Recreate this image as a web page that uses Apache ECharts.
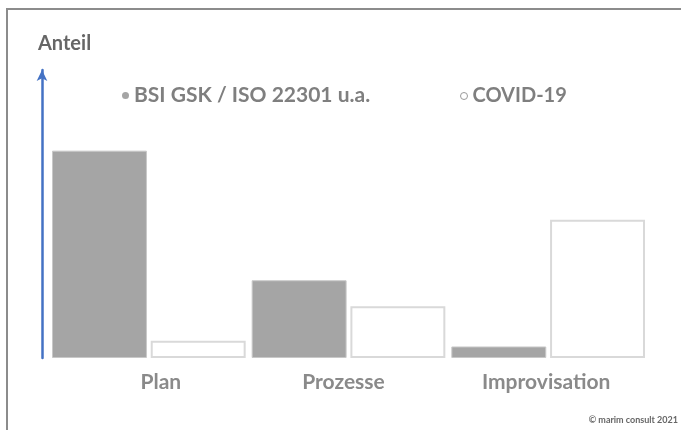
<!DOCTYPE html>
<html>
<head>
<meta charset="utf-8">
<script src="https://cdn.jsdelivr.net/npm/echarts@6/dist/echarts.min.js"></script>
<style>
  html, body { margin: 0; padding: 0; background: #fff; }
  #chart { width: 681px; height: 430px; }
</style>
</head>
<body>
<div id="chart"></div>
<script>
// Kategorien und Anteile (relative Werte, 0–100)
const categories = ['Plan', 'Prozesse', 'Improvisation'];
const seriesNames = ['BSI GSK / ISO 22301 u.a.', 'COVID-19'];
const bsiValues = [72, 27, 4];
const covidValues = [6, 18, 48];

const textGrey = '#7f7f7f';
const font = 'Lato, "Open Sans", sans-serif';

const chart = echarts.init(document.getElementById('chart'));

chart.setOption({
  backgroundColor: '#ffffff',
  animation: false,
  textStyle: { fontFamily: font },
  title: {
    text: 'Anteil',
    left: 33,
    top: 29,
    textStyle: { fontFamily: font, fontSize: 20, fontWeight: 'bold', color: '#666666' }
  },
  legend: [
    {
      data: [seriesNames[0]],
      left: 117,
      top: 80,
      icon: 'circle',
      itemWidth: 7,
      itemHeight: 7,
      itemStyle: { color: '#a5a5a5', borderWidth: 0 },
      textStyle: { fontFamily: font, fontSize: 21, fontWeight: 'bold', color: textGrey }
    },
    {
      data: [seriesNames[1]],
      left: 455,
      top: 81,
      icon: 'circle',
      itemWidth: 7,
      itemHeight: 7,
      itemStyle: { color: '#ffffff', borderColor: '#9a9a9a', borderWidth: 1 },
      textStyle: { fontFamily: font, fontSize: 20, fontWeight: 'bold', color: textGrey }
    }
  ],
  grid: { left: 49, right: 33, top: 70, bottom: 72 },
  xAxis: {
    type: 'category',
    data: categories.map((c, i) => ({
      value: c,
      textStyle: { padding: i === 0 ? [0, 0, 0, 24] : (i === 1 ? [0, 10, 0, 0] : [0, 4, 0, 0]) }
    })),
    axisLine: { show: false },
    axisTick: { show: false },
    axisLabel: {
      margin: 14,
      fontFamily: font,
      fontSize: 21,
      fontWeight: 'bold',
      color: '#8a8a8a'
    }
  },
  yAxis: {
    type: 'value',
    min: 0,
    max: 100,
    offset: 7,
    splitLine: { show: false },
    axisTick: { show: false },
    axisLabel: { show: false },
    axisLine: {
      show: true,
      symbol: ['none', 'arrow'],
      symbolSize: [8, 11],
      symbolOffset: [0, 0],
      lineStyle: { color: '#4472c4', width: 2.5 }
    }
  },
  series: [
    {
      name: seriesNames[0],
      type: 'bar',
      data: bsiValues,
      barGap: '4%',
      barCategoryGap: '3%',
      itemStyle: { color: '#a5a5a5', borderColor: '#c8c8c8', borderWidth: 1 }
    },
    {
      name: seriesNames[1],
      type: 'bar',
      data: covidValues,
      itemStyle: { color: '#ffffff', borderColor: '#d9d9d9', borderWidth: 2 }
    }
  ],
  graphic: [
    {
      type: 'rect',
      shape: { x: 7, y: 9, width: 720, height: 460 },
      style: { fill: 'none', stroke: '#8c8c8c', lineWidth: 2 },
      silent: true
    },
    {
      type: 'text',
      right: 3,
      bottom: 5,
      style: {
        text: '© marim consult 2021',
        fontFamily: font,
        fontSize: 9,
        fontWeight: 'bold',
        fill: '#666666'
      }
    }
  ]
});
</script>
</body>
</html>
